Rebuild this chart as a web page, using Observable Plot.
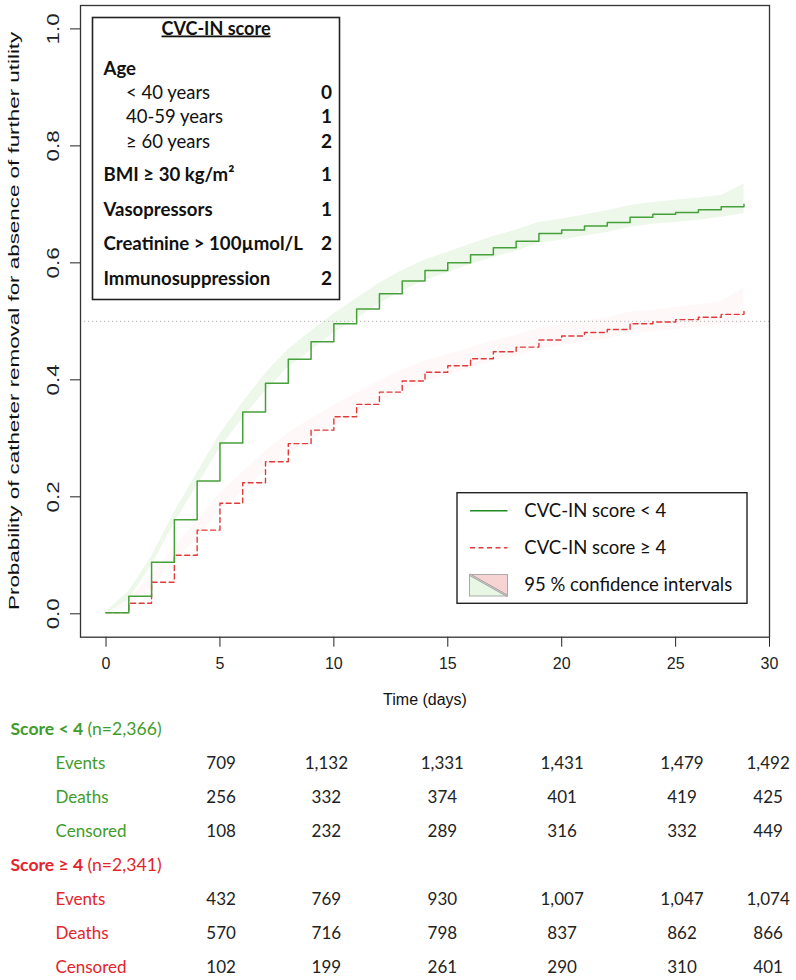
<!DOCTYPE html>
<html><head><meta charset="utf-8">
<script src="https://cdn.jsdelivr.net/npm/d3@7"></script>
<script src="https://cdn.jsdelivr.net/npm/@observablehq/plot@0.6"></script>
<style>
body{margin:0;background:#fff;}
#chart svg{display:block;}
</style></head><body><div id="chart"></div><script>
// ---------- data ----------
const days = [0,1,2,3,4,5,6,7,8,9,10,11,12,13,14,15,16,17,18,19,20,21,22,23,24,25,26,27,28];
const lowLevel = [0.002,0.030,0.088,0.161,0.227,0.292,0.345,0.394,0.435,0.465,0.496,0.521,0.547,0.569,0.587,0.600,0.614,0.626,0.637,0.650,0.656,0.663,0.669,0.678,0.683,0.686,0.691,0.696,0.700];
const lowLower = [0.000,0.024,0.082,0.155,0.219,0.283,0.334,0.381,0.421,0.450,0.480,0.504,0.530,0.552,0.570,0.583,0.597,0.609,0.620,0.633,0.639,0.646,0.652,0.661,0.666,0.669,0.673,0.678,0.684];
const lowUpper = [0.004,0.038,0.098,0.173,0.241,0.307,0.361,0.411,0.452,0.483,0.513,0.539,0.565,0.587,0.605,0.618,0.632,0.645,0.656,0.669,0.675,0.682,0.689,0.698,0.703,0.707,0.711,0.715,0.735];
const highLevel = [0.002,0.018,0.054,0.100,0.143,0.189,0.224,0.260,0.291,0.314,0.337,0.358,0.379,0.398,0.413,0.424,0.436,0.448,0.456,0.468,0.475,0.481,0.486,0.496,0.499,0.503,0.507,0.512,0.517];
const highLower = [0.000,0.012,0.045,0.089,0.130,0.175,0.209,0.244,0.275,0.298,0.321,0.342,0.363,0.382,0.397,0.408,0.420,0.432,0.440,0.452,0.459,0.465,0.470,0.479,0.482,0.486,0.490,0.494,0.497];
const highUpper = [0.004,0.026,0.066,0.114,0.159,0.206,0.242,0.278,0.309,0.333,0.356,0.377,0.398,0.417,0.432,0.443,0.455,0.467,0.476,0.488,0.495,0.501,0.506,0.516,0.519,0.524,0.528,0.534,0.557];

const xTickValues = [0,5,10,15,20,25,30];
const yTickValues = [0,0.2,0.4,0.6,0.8,1.0];
const yTitle = "Probability of catheter removal for absence of further utility";
const xTitle = "Time (days)";

const scoreTitle = "CVC-IN score";
const scoreLabels = ["Age","< 40 years","40-59 years","≥ 60 years","BMI ≥ 30 kg/m²","Vasopressors","Creatinine > 100µmol/L","Immunosuppression"];
const scorePoints = ["","0","1","2","1","1","2","2"];
const scoreIsSub = [false,true,true,true,false,false,false,false];

const legendLabels = ["CVC-IN score < 4","CVC-IN score ≥ 4","95 % confidence intervals"];

const tableColumnTimes = [5.05, 9.67, 14.76, 20.02, 25.28, 29.06];
const groupTitles = ["Score < 4","Score ≥ 4"];
const groupN = ["(n=2,366)","(n=2,341)"];
const rowLabels = ["Events","Deaths","Censored"];
const lowEvents = [709,1132,1331,1431,1479,1492];
const lowDeaths = [256,332,374,401,419,425];
const lowCensored = [108,232,289,316,332,449];
const highEvents = [432,769,930,1007,1047,1074];
const highDeaths = [570,716,798,837,862,866];
const highCensored = [102,199,261,290,310,401];

// ---------- styles ----------
const GREEN_LINE = "#45a03a", RED_LINE = "#e03a3a";
const GREEN_FILL = "#edf8ea", RED_FILL = "#fef8f9";
const GREEN_TEXT = "#3f9c2a", RED_TEXT = "#e3242b";
const AXIS_FONT = "'Liberation Sans', Arial, sans-serif";
const CAL_FONT = "Lato, 'Open Sans', sans-serif";
const Y_STRETCH = 1.4;

const W = 796, H = 712;
const xDomain = [-1.12, 29.12];
const xMax = xDomain[1];

const low = days.map((t,i)=>({t, y:lowLevel[i], lo:lowLower[i], hi:lowUpper[i]}));
const high = days.map((t,i)=>({t, y:highLevel[i], lo:highLower[i], hi:highUpper[i]}));

const main = Plot.plot({
  width: W, height: H,
  marginLeft: 80, marginRight: 27, marginTop: 5, marginBottom: H - 636.7,
  x: {domain: xDomain},
  y: {domain: [-0.04, 1.04]},
  style: {fontFamily: AXIS_FONT, fontSize: "16px", color: "#222", background: "#fff"},
  marks: [
    Plot.areaY(high, {x:"t", y1:"lo", y2:"hi", fill: RED_FILL, curve:"linear"}),
    Plot.areaY(low, {x:"t", y1:"lo", y2:"hi", fill: GREEN_FILL, curve:"linear"}),
    Plot.ruleY([0.5], {stroke:"#b5b5b5", strokeDasharray:"1.2,2.8", strokeWidth:1}),
    Plot.line(high, {x:"t", y:"y", curve:"step-after", stroke: RED_LINE, strokeWidth:1.4, strokeDasharray:"5,3.5"}),
    Plot.line(low, {x:"t", y:"y", curve:"step-after", stroke: GREEN_LINE, strokeWidth:1.5}),
    Plot.axisX({ticks: xTickValues.map(v=>Math.min(v,xMax)), tickFormat: d => String(d >= xMax ? xTickValues[xTickValues.length-1] : d), tickSize: 10, tickPadding: 10, label: null, fontSize: 16}),
    Plot.axisY({ticks: yTickValues, tickFormat: d3.format(".1f"), tickSize: 10, tickPadding: 12, tickRotate: -90, label: null, fontSize: 16}),
    Plot.text([xTitle], {frameAnchor:"bottom", dy: 68, text: d=>d, fontSize: 16, fill:"#111", textAnchor:"middle"}),
    Plot.frame({stroke:"#333", strokeWidth:1.3})
  ]
});

const svg = d3.select(main);
// stretch rotated y tick labels along their length, as in the reference
svg.selectAll("g[aria-label='y-axis tick label'] text").each(function(){
  const tr = this.getAttribute("transform") || "";
  this.setAttribute("transform", tr + ` scale(${Y_STRETCH},1)`);
});
// y title (rotated, stretched)
svg.append("text")
  .attr("transform", `translate(14,${(5 + 636.7) / 2}) rotate(-90) scale(1.6,1)`)
  .attr("text-anchor", "middle").attr("dominant-baseline", "central")
  .attr("font-family", AXIS_FONT).attr("font-size", 14).attr("fill", "#111").text(yTitle);

// ---------- score box ----------
const sb = svg.append("g").attr("font-family", CAL_FONT).attr("fill", "#111").attr("text-anchor","start");
sb.append("rect").attr("x", 92.5).attr("y", 17.5).attr("width", 247).attr("height", 282)
  .attr("fill", "#fff").attr("stroke", "#222").attr("stroke-width", 1.6);
sb.append("text").attr("x", 216).attr("y", 34.5).attr("text-anchor","middle").attr("font-weight","bold")
  .attr("font-size", 18).attr("text-decoration","underline").text(scoreTitle);
const scoreBaselines = [75, 98.5, 122.8, 148.3, 181, 215.5, 250, 284.5];
scoreLabels.forEach((lab,i)=>{
  sb.append("text").attr("x", scoreIsSub[i] ? 126 : 103.5).attr("y", scoreBaselines[i])
    .attr("font-size", scoreIsSub[i] ? 18.5 : 18.6)
    .attr("font-weight", scoreIsSub[i] ? "normal" : "bold").text(lab);
  if (scorePoints[i]) sb.append("text").attr("x", 332).attr("y", scoreBaselines[i]).attr("font-size", 19)
    .attr("text-anchor","end").attr("font-weight","bold").text(scorePoints[i]);
});

// ---------- legend ----------
const lg = svg.append("g").attr("font-family", CAL_FONT).attr("font-size", 18.5).attr("fill", "#111").attr("text-anchor","start");
lg.append("rect").attr("x", 457).attr("y", 492.7).attr("width", 290).attr("height", 110.6)
  .attr("fill", "#fff").attr("stroke", "#222").attr("stroke-width", 1.4);
lg.append("line").attr("x1",470).attr("x2",507.5).attr("y1",510.7).attr("y2",510.7).attr("stroke","#1f8a1f").attr("stroke-width",1.4);
lg.append("line").attr("x1",470).attr("x2",507.5).attr("y1",547.7).attr("y2",547.7).attr("stroke",RED_LINE).attr("stroke-width",1.4).attr("stroke-dasharray","5,3.5");
lg.append("path").attr("d","M469.5,574.5 L469.5,596 L507.5,596 Z").attr("fill","#e8f6e4");
lg.append("path").attr("d","M469.5,574.5 L507.5,574.5 L507.5,596 Z").attr("fill","#f7d3d3");
lg.append("line").attr("x1",469.5).attr("y1",574.5).attr("x2",507.5).attr("y2",596).attr("stroke","#999").attr("stroke-width",2.2);
lg.append("line").attr("x1",469.5).attr("y1",574.5).attr("x2",507.5).attr("y2",596).attr("stroke","#eee").attr("stroke-width",0.6);
lg.append("rect").attr("x",469.5).attr("y",574.5).attr("width",38).attr("height",21.5).attr("fill","none").attr("stroke","#aaa").attr("stroke-width",1);
const legendY = [510.7, 547.7, 585];
legendLabels.forEach((lab,i)=>{
  lg.append("text").attr("x",524.3).attr("y",legendY[i]).attr("dy","0.35em").text(lab);
});

document.getElementById("chart").appendChild(main);

// ---------- table ----------
const TH = 980 - H;           // table svg height
const off = 720 - H;          // offset so rows keep their page positions
const rowKeys = ["g0","e0","d0","c0","g1","e1","d1","c1"];
const groupsData = [[lowEvents, lowDeaths, lowCensored],[highEvents, highDeaths, highCensored]];
const cells = [];
const labelCells = [];
groupsData.forEach((g,gi)=>{
  g.forEach((vals,ri)=>{
    const key = ["e","d","c"][ri] + gi;
    labelCells.push({row:key, label: rowLabels[ri], group: gi});
    vals.forEach((v,ci)=>cells.push({row:key, t: tableColumnTimes[ci], value: d3.format(",")(v)}));
  });
});
const table = Plot.plot({
  width: W, height: TH,
  marginLeft: 80, marginRight: 27, marginTop: 0, marginBottom: 0,
  x: {domain: xDomain, axis: null},
  y: {type: "point", domain: rowKeys, range: [6.7 + off, 248.3 + off], padding: 0, axis: null},
  style: {fontFamily: CAL_FONT, fontSize: "17px", background:"#fff"},
  marks: [
    Plot.text(cells, {x:"t", y:"row", text:"value", fill:"#222", fontSize:17}),
    Plot.text(labelCells.filter(d=>d.group===0), {frameAnchor:"left", y:"row", text:"label", dx:-25, textAnchor:"start", fill: GREEN_TEXT, fontSize:17}),
    Plot.text(labelCells.filter(d=>d.group===1), {frameAnchor:"left", y:"row", text:"label", dx:-25, textAnchor:"start", fill: RED_TEXT, fontSize:17})
  ]
});
const ys = table.scale("y");
const tsvg = d3.select(table);
groupTitles.forEach((title, gi)=>{
  const t = tsvg.append("text").attr("x", 10.5).attr("y", ys.apply("g"+gi)).attr("dy","0.35em")
    .attr("text-anchor","start")
    .attr("font-family", CAL_FONT).attr("font-size", 17.6).attr("fill", gi===0 ? GREEN_TEXT : RED_TEXT);
  t.append("tspan").attr("font-weight","bold").text(title + " ");
  t.append("tspan").text(groupN[gi]);
});
document.getElementById("chart").appendChild(table);
</script></body></html>
